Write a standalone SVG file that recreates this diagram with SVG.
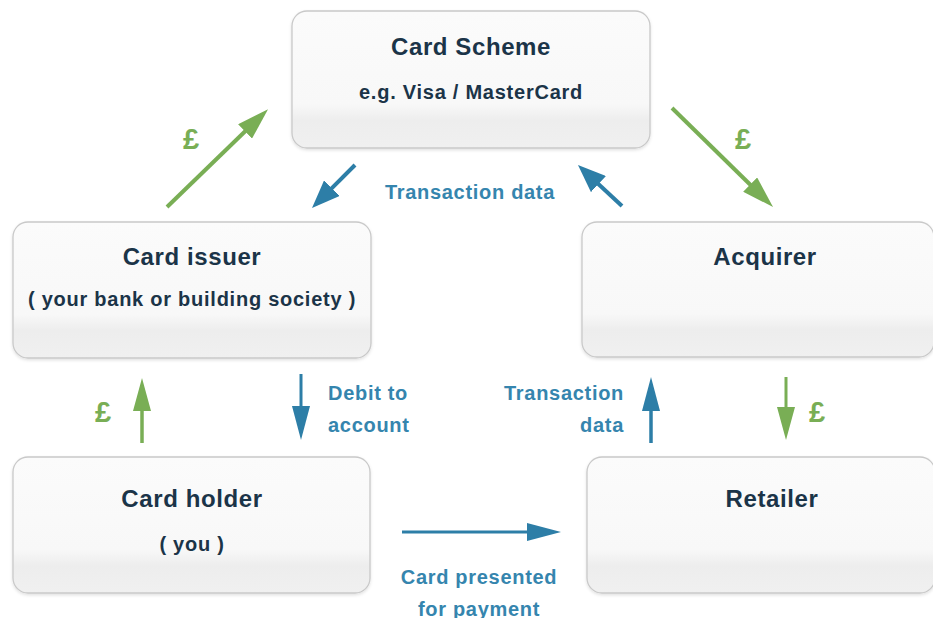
<svg xmlns="http://www.w3.org/2000/svg" width="933" height="618" viewBox="0 0 933 618">
<style>
.box{fill:url(#boxg);stroke:#c9c9c9;stroke-width:1.3;filter:url(#sh)}
.t{font-family:"Liberation Sans",Arial,sans-serif;font-weight:bold;fill:#1b3448;text-anchor:middle}
.tt{font-size:24px;letter-spacing:0.6px}
.ts{font-size:20px;letter-spacing:0.75px}
.lb{font-family:"Liberation Sans",Arial,sans-serif;font-weight:bold;font-size:20px;letter-spacing:0.7px;fill:#3585ae}
.lg{font-family:"Liberation Sans",Arial,sans-serif;font-weight:bold;font-size:29px;fill:#79ae55;text-anchor:middle}
.ag{stroke:#79ae55;fill:none}
.ab{stroke:#2d7ea7;fill:none}
</style>
<defs>
<linearGradient id="boxg" x1="0" y1="0" x2="0" y2="1">
<stop offset="0" stop-color="#fbfbfb"/>
<stop offset="0.68" stop-color="#f8f8f8"/>
<stop offset="0.8" stop-color="#ededed"/>
<stop offset="1" stop-color="#f0f0f0"/>
</linearGradient>
<filter id="sh" x="-5%" y="-5%" width="110%" height="115%">
<feDropShadow dx="0" dy="1.5" stdDeviation="1.5" flood-color="#000" flood-opacity="0.12"/>
</filter>
<marker id="mgd" markerUnits="userSpaceOnUse" markerWidth="32" markerHeight="20" refX="2" refY="10" orient="auto"><path d="M0,0 L32,10 L0,20 z" fill="#79ae55"/></marker>
<marker id="mbd" markerUnits="userSpaceOnUse" markerWidth="28" markerHeight="22" refX="2" refY="11" orient="auto"><path d="M0,0 L28,11 L0,22 z" fill="#2d7ea7"/></marker>
<marker id="mgv" markerUnits="userSpaceOnUse" markerWidth="33" markerHeight="18" refX="2" refY="9" orient="auto"><path d="M0,0 L33,9 L0,18 z" fill="#79ae55"/></marker>
<marker id="mbv" markerUnits="userSpaceOnUse" markerWidth="34" markerHeight="18" refX="2" refY="9" orient="auto"><path d="M0,0 L34,9 L0,18 z" fill="#2d7ea7"/></marker>
</defs>
<rect width="933" height="618" fill="#ffffff"/>

<g id="card-scheme">
<rect class="box" x="292" y="11" width="358" height="137" rx="15"/>
<text class="t tt" x="471" y="55">Card Scheme</text>
<text class="t ts" x="471" y="99">e.g. Visa / MasterCard</text>
</g>
<g id="card-issuer">
<rect class="box" x="13" y="222" width="358" height="136" rx="15"/>
<text class="t tt" x="192" y="265">Card issuer</text>
<text class="t ts" x="192" y="306">( your bank or building society )</text>
</g>
<g id="acquirer">
<rect class="box" x="582" y="222" width="352" height="135" rx="15"/>
<text class="t tt" x="765" y="265">Acquirer</text>
</g>
<g id="card-holder">
<rect class="box" x="13" y="457" width="357" height="136" rx="15"/>
<text class="t tt" x="192" y="507">Card holder</text>
<text class="t ts" x="192" y="551">( you )</text>
</g>
<g id="retailer">
<rect class="box" x="587" y="457" width="348" height="136" rx="15"/>
<text class="t tt" x="772" y="507">Retailer</text>
</g>

<g id="connectors">
<line class="ag" x1="167" y1="207" x2="246.5" y2="130" stroke-width="4" marker-end="url(#mgd)"/>
<text class="lg" x="191" y="149">£</text>
<line class="ag" x1="672" y1="108" x2="751.6" y2="186" stroke-width="4" marker-end="url(#mgd)"/>
<text class="lg" x="743" y="149">£</text>
<line class="ab" x1="355" y1="165" x2="330.4" y2="189.6" stroke-width="4" marker-end="url(#mbd)"/>
<line class="ab" x1="622" y1="206" x2="597" y2="182.7" stroke-width="4" marker-end="url(#mbd)"/>
<text class="lb" x="470" y="199" text-anchor="middle">Transaction data</text>

<line class="ag" x1="142" y1="443" x2="142" y2="409" stroke-width="3.5" marker-end="url(#mgv)"/>
<text class="lg" x="103" y="422">£</text>
<line class="ab" x1="301" y1="374" x2="301" y2="408" stroke-width="3" marker-end="url(#mbv)"/>
<text class="lb" x="328" y="400">Debit to</text>
<text class="lb" x="328" y="432">account</text>
<line class="ab" x1="651" y1="443" x2="651" y2="409" stroke-width="3.5" marker-end="url(#mbv)"/>
<text class="lb" x="624" y="400" text-anchor="end">Transaction</text>
<text class="lb" x="624" y="432" text-anchor="end">data</text>
<line class="ag" x1="786" y1="377" x2="786" y2="409" stroke-width="3" marker-end="url(#mgv)"/>
<text class="lg" x="817" y="422">£</text>

<line class="ab" x1="402" y1="532" x2="529" y2="532" stroke-width="3" marker-end="url(#mbv)"/>
<text class="lb" x="479" y="584" text-anchor="middle">Card presented</text>
<text class="lb" x="479" y="616" text-anchor="middle">for payment</text>
</g>
</svg>
